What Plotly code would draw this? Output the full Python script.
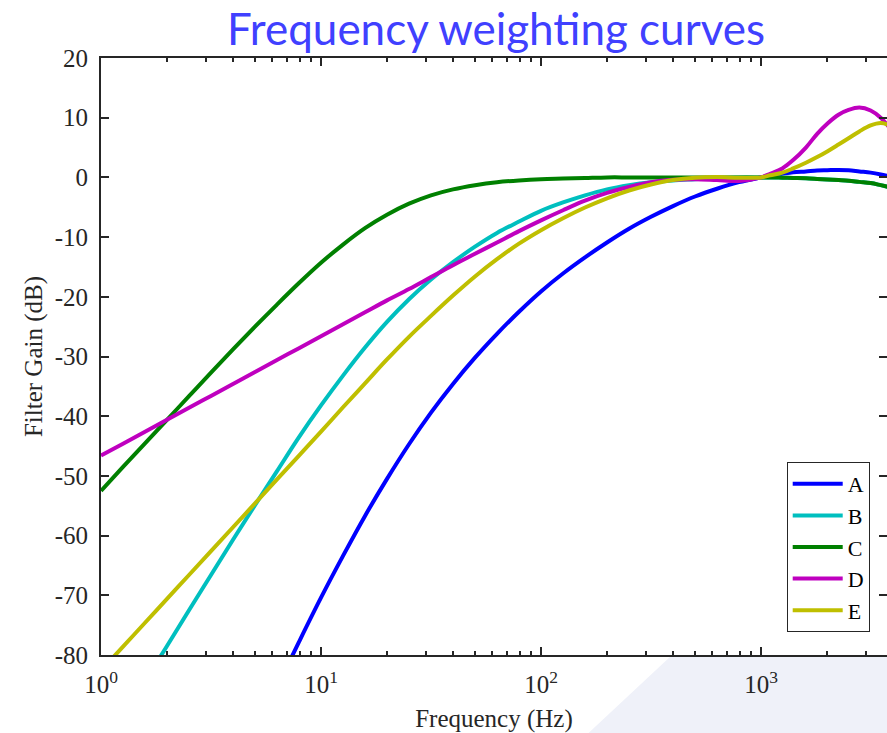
import plotly.graph_objects as go

# Frequencies (Hz)
freq = [1.0, 1.259, 1.585, 1.995, 2.512, 3.162, 3.981, 5.012, 6.31, 7.943,
        10.0, 12.59, 15.85, 19.95, 25.12, 31.62, 39.81, 50.12, 63.1, 79.43,
        100.0, 125.9, 158.5, 199.5, 251.2, 316.2, 398.1, 501.2, 631.0, 794.3, 1000.0,
        1100, 1250, 1400, 1600, 1800, 2000, 2250, 2500, 2800, 3150, 3500, 4000]

# Gains (dB)
gain_A = [None, None, None, None, None, None, None, None, -85.4, -77.8,
          -70.4, -63.4, -56.7, -50.5, -44.7, -39.4, -34.6, -30.2, -26.2, -22.5,
          -19.1, -16.1, -13.4, -10.9, -8.6, -6.6, -4.8, -3.2, -1.9, -0.8, 0.0,
          0.3, 0.6, 0.85, 1.0, 1.15, 1.2, 1.25, 1.2, 1.0, 0.8, 0.5, 0.0]
gain_B = [-96.4, -90.4, -84.4, -78.5, -72.5, -66.6, -60.7, -54.9, -49.2, -43.5,
          -38.2, -33.2, -28.5, -24.2, -20.4, -17.1, -14.2, -11.6, -9.3, -7.4,
          -5.6, -4.2, -3.0, -2.0, -1.3, -0.8, -0.5, -0.3, -0.1, 0.0, 0.0,
          0.0, -0.05, -0.1, -0.15, -0.25, -0.35, -0.45, -0.55, -0.75, -0.95, -1.3, -1.8]
gain_C = [-52.5, -48.5, -44.55, -40.6, -36.65, -32.7, -28.8, -25.0, -21.3, -17.7,
          -14.3, -11.25, -8.5, -6.25, -4.4, -3.0, -2.0, -1.3, -0.8, -0.5,
          -0.3, -0.2, -0.1, 0.0, 0.0, 0.0, 0.0, 0.0, 0.0, 0.0, 0.0,
          0.0, -0.05, -0.1, -0.15, -0.25, -0.35, -0.45, -0.55, -0.75, -0.95, -1.3, -1.8]
gain_D = [-46.6, -44.6, -42.6, -40.6, -38.6, -36.6, -34.6, -32.6, -30.6, -28.6,
          -26.6, -24.6, -22.6, -20.6, -18.7, -16.7, -14.7, -12.8, -10.9, -9.0,
          -7.2, -5.5, -3.9, -2.6, -1.6, -0.8, -0.4, -0.3, -0.45, -0.6, 0.0,
          0.6, 1.5, 2.9, 5.0, 7.3, 9.0, 10.5, 11.3, 11.7, 11.2, 10.0, 7.5]
gain_E = [-82.6, -78.6, -74.6, -70.6, -66.6, -62.6, -58.6, -54.6, -50.6, -46.6,
          -42.6, -38.5, -34.5, -30.5, -26.7, -23.2, -19.8, -16.6, -13.7, -11.1,
          -8.85, -6.85, -5.05, -3.5, -2.2, -1.2, -0.45, -0.05, 0.05, -0.05, 0.0,
          0.35, 0.8, 1.5, 2.45, 3.4, 4.35, 5.5, 6.55, 7.7, 8.7, 9.1, 8.5]

names = ["A", "B", "C", "D", "E"]
colors = ["#0000FF", "#00BFBF", "#008000", "#BF00BF", "#BFBF00"]
series = [gain_A, gain_B, gain_C, gain_D, gain_E]

x_ticks = [1, 10, 100, 1000]
x_ticktext = ["10<sup>0</sup>", "10<sup>1</sup>", "10<sup>2</sup>", "10<sup>3</sup>"]
x_minor = [m * d for d in (1, 10, 100, 1000) for m in range(2, 10)]
y_ticks = [-80, -70, -60, -50, -40, -30, -20, -10, 0, 10, 20]
y_ticktext = [str(v) for v in y_ticks]

fig = go.Figure()
for n, c, g in zip(names, colors, series):
    fig.add_trace(go.Scatter(x=freq, y=g, name=n, mode="lines",
                             line=dict(color=c, width=4, shape="spline", smoothing=1.0, simplify=False),
                             connectgaps=False))

axcol = "#262626"
serif = "Liberation Serif"

fig.update_layout(
    width=887, height=733,
    margin=dict(l=101, r=0, t=58, b=78),
    paper_bgcolor="white", plot_bgcolor="white",
    title=dict(text="Frequency weighting curves", font=dict(family="Lato", size=44, color="#4040FF"),
               x=0.5025, xref="paper", xanchor="center", y=1 - 30 / 733, yref="container", yanchor="middle"),
    showlegend=True,
    legend=dict(x=0.978, xanchor="right", y=0.0385, yanchor="bottom",
                bgcolor="white", bordercolor=axcol, borderwidth=1, itemwidth=50,
                font=dict(family=serif, size=22, color="black"), tracegroupgap=0),
    xaxis=dict(type="log", range=[0, 3.5727], tickvals=x_ticks, ticktext=x_ticktext,
               showgrid=False, zeroline=False, showline=True, linecolor=axcol, linewidth=2,
               mirror="ticks", ticks="inside", ticklen=8, tickwidth=1.5, tickcolor=axcol,
               ticklabelstandoff=6,
               tickfont=dict(family=serif, size=25, color=axcol),
               minor=dict(tickvals=x_minor, ticks="inside", ticklen=4, tickwidth=1.5, tickcolor=axcol, showgrid=False),
               title=dict(text="Frequency (Hz)", font=dict(family=serif, size=25, color=axcol), standoff=18)),
    yaxis=dict(range=[-80, 20], tickvals=y_ticks, ticktext=y_ticktext,
               showgrid=False, zeroline=False, showline=True, linecolor=axcol, linewidth=2,
               ticks="inside", ticklen=8, tickwidth=1.5, tickcolor=axcol, ticklabelstandoff=6,
               tickfont=dict(family=serif, size=25, color=axcol),
               title=dict(text="Filter Gain (dB)", font=dict(family=serif, size=25, color=axcol), standoff=5)),
    yaxis2=dict(range=[-80, 20], tickvals=y_ticks, overlaying="y", side="right", anchor="x",
                showgrid=False, zeroline=False, showline=False, showticklabels=False,
                ticks="inside", ticklen=8, tickwidth=1.5, tickcolor=axcol),
    shapes=[dict(type="path", xref="paper", yref="paper", layer="below",
                 path="M 0.7265 0 L 1.0 0 L 1.0 -0.131 L 0.62 -0.131 Z",
                 fillcolor="#EFF1F9", line=dict(width=0))],
)
fig.add_trace(go.Scatter(x=[1, 1000], y=[None, None], yaxis="y2", showlegend=False, hoverinfo="skip"))

fig.write_html("out.html")
